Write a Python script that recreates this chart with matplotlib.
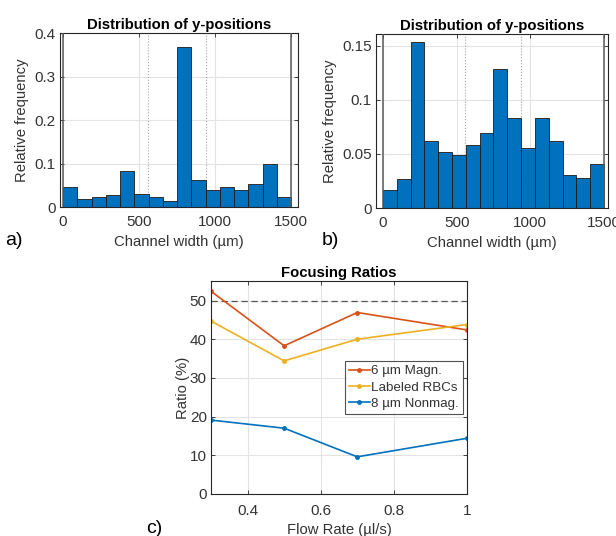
import numpy as np
import matplotlib
matplotlib.use('Agg')
from matplotlib import pyplot as plt

# data
freq_a = [0.045, 0.018, 0.022, 0.028, 0.082, 0.030, 0.022, 0.014,
          0.367, 0.062, 0.038, 0.047, 0.040, 0.052, 0.100, 0.022]
freq_b = [0.017, 0.027, 0.154, 0.062, 0.052, 0.049, 0.058, 0.069,
          0.129, 0.083, 0.056, 0.083, 0.062, 0.031, 0.028, 0.041]
channel_width = 1500
walls = [0, 1500]
markers_dotted = [560, 940]

flow_rate = [0.3, 0.5, 0.7, 1.0]
ratio_magn = [52.4, 38.3, 46.9, 42.4]
ratio_rbc = [44.7, 34.4, 40.0, 43.8]
ratio_nonmag = [19.1, 17.0, 9.6, 14.4]
series_labels = ['6 \u00b5m Magn.', 'Labeled RBCs', '8 \u00b5m Nonmag.']

plt.rcParams['font.family'] = ['Liberation Sans', 'DejaVu Sans']
plt.rcParams['font.size'] = 10.7

dark = '#262626'
tick_col = '#333333'
blue = '#0072BD'
red = '#D95319'
yellow = '#EDB120'
grid_col = '#e3e3e3'


def style_axes(ax, xpad=6, ypad=3):
    for sp in ax.spines.values():
        sp.set_color(dark)
        sp.set_linewidth(0.8)
    ax.tick_params(colors=dark, labelcolor=tick_col, direction='in',
                   length=3, width=0.6, top=True, right=True, labelsize=11)
    ax.tick_params(axis='x', pad=xpad)
    ax.tick_params(axis='y', pad=ypad)
    ax.grid(True, color=grid_col, lw=0.8)
    ax.set_axisbelow(True)


def hist_panel(ax, freq, xlim, ylim, yticks, yticklabels):
    width = channel_width / len(freq)
    edges = np.arange(len(freq)) * width
    ax.bar(edges, freq, width=width, align='edge', color=blue,
           edgecolor='#1a1a1a', linewidth=0.6, zorder=2)
    for xw in walls:
        ax.axvline(xw, color='#5a5a5a', lw=1.1, zorder=3)
    for xm in markers_dotted:
        ax.axvline(xm, color='#a5a5a5', lw=0.8, ls=':', zorder=1)
    ax.set_xlim(*xlim)
    ax.set_ylim(*ylim)
    ax.set_xticks([0, 500, 1000, 1500])
    ax.set_yticks(yticks)
    ax.set_yticklabels(yticklabels)
    ax.set_xlabel('Channel width (\u00b5m)', color=tick_col, labelpad=4)
    ax.set_ylabel('Relative frequency', color=tick_col, labelpad=4)
    ax.set_title('Distribution of y-positions', fontweight='bold',
                 fontsize=10.7, pad=3)
    style_axes(ax)


fig = plt.figure(figsize=(6.16, 5.36), dpi=100)

ax1 = fig.add_axes([0.0974, 0.6138, 0.3864, 0.3246])
hist_panel(ax1, freq_a, (-20, 1546), (0, 0.4),
           [0, 0.1, 0.2, 0.3, 0.4], ['0', '0.1', '0.2', '0.3', '0.4'])

ax2 = fig.add_axes([0.6104, 0.6119, 0.3766, 0.3246])
hist_panel(ax2, freq_b, (-47, 1527), (0, 0.161),
           [0, 0.05, 0.1, 0.15], ['0', '0.05', '0.1', '0.15'])

ax3 = fig.add_axes([0.3425, 0.0784, 0.4156, 0.397])
ax3.axhline(50, color='#555555', ls=(0, (5, 3)), lw=0.9)
ax3.plot(flow_rate, ratio_magn, '.-', color=red, lw=1.2, ms=5,
         label=series_labels[0])
ax3.plot(flow_rate, ratio_rbc, '.-', color=yellow, lw=1.2, ms=5,
         label=series_labels[1])
ax3.plot(flow_rate, ratio_nonmag, '.-', color=blue, lw=1.2, ms=5,
         label=series_labels[2])
ax3.set_xlim(0.3, 1.0)
ax3.set_ylim(0, 55)
ax3.set_xticks([0.4, 0.6, 0.8, 1.0])
ax3.set_xticklabels(['0.4', '0.6', '0.8', '1'])
ax3.set_yticks([0, 10, 20, 30, 40, 50])
ax3.set_xlabel('Flow Rate (\u00b5l/s)', color=tick_col, labelpad=4)
ax3.set_ylabel('Ratio (%)', color=tick_col, labelpad=0)
ax3.set_title('Focusing Ratios', fontweight='bold', fontsize=10.7, pad=3)
style_axes(ax3, xpad=7, ypad=3)
leg = ax3.legend(loc='upper right', bbox_to_anchor=(0.985, 0.625),
                 frameon=True, fancybox=False, handlelength=1.6,
                 handletextpad=0.1, borderpad=0.3, labelspacing=0.3,
                 borderaxespad=0, fontsize=9.6)
leg.get_frame().set_edgecolor(dark)
leg.get_frame().set_linewidth(0.8)
for txt in leg.get_texts():
    txt.set_color(tick_col)

fig.text(0.008, 0.552, 'a)', fontsize=14, va='center')
fig.text(0.523, 0.552, 'b)', fontsize=14, va='center')
fig.text(0.238, 0.014, 'c)', fontsize=14, va='center')

fig.savefig('out.png', dpi=100)
